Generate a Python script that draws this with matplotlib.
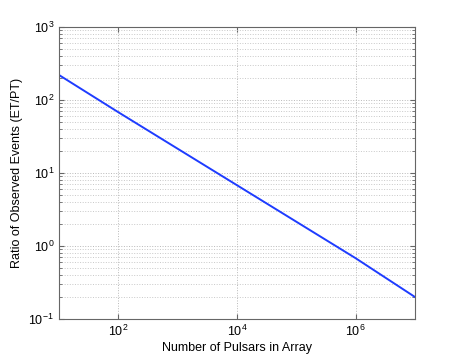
import numpy as np
import matplotlib
matplotlib.use('Agg')
import matplotlib.pyplot as plt
from matplotlib.ticker import LogLocator, NullFormatter, NullLocator

plt.rcParams['font.family'] = ['Liberation Sans', 'DejaVu Sans']
plt.rcParams['mathtext.fontset'] = 'custom'
plt.rcParams['mathtext.rm'] = 'Liberation Sans'

# data (ratio falls as N^-1/2)
n_pulsars = [1e1, 1e2, 1e3, 1e4, 1e5, 1e6, 1e7]
ratio = [220, 68, 21.5, 6.8, 2.15, 0.68, 0.2]

fig = plt.figure(figsize=(4.58, 3.59), dpi=100, facecolor='white')
ax = fig.add_axes([59/458, 40/359, (415-59)/458, (319-27)/359])

ax.plot(n_pulsars, ratio, color='#1e3cff', linewidth=1.4)

ax.set_xscale('log')
ax.set_yscale('log')
ax.set_xlim(1e1, 1e7)
ax.set_ylim(1e-1, 1e3)

ax.set_xticks([1e2, 1e4, 1e6])
ax.xaxis.set_minor_locator(NullLocator())
ax.yaxis.set_major_locator(LogLocator(base=10, numticks=20))
ax.yaxis.set_minor_locator(LogLocator(base=10, subs=np.arange(2, 10), numticks=20))
ax.yaxis.set_minor_formatter(NullFormatter())

# matlab-ish dotted grid
ax.grid(True, which='major', axis='both', linestyle=':', color='#b8b8b8', linewidth=0.7)
ax.grid(True, which='minor', axis='y', linestyle=':', color='#c8c8c8', linewidth=0.7)

ax.tick_params(which='both', direction='in', top=True, right=True,
               labelsize=9, color='#666666')
ax.tick_params(which='major', length=3.5)
ax.tick_params(which='minor', length=2)
for s in ax.spines.values():
    s.set_linewidth(0.8)
    s.set_color('#666666')

ax.set_xlabel('Number of Pulsars in Array', fontsize=9, labelpad=2)
ax.set_ylabel('Ratio of Observed Events (ET/PT)', fontsize=9, labelpad=4)

plt.savefig('out.png', dpi=100, facecolor='white')
